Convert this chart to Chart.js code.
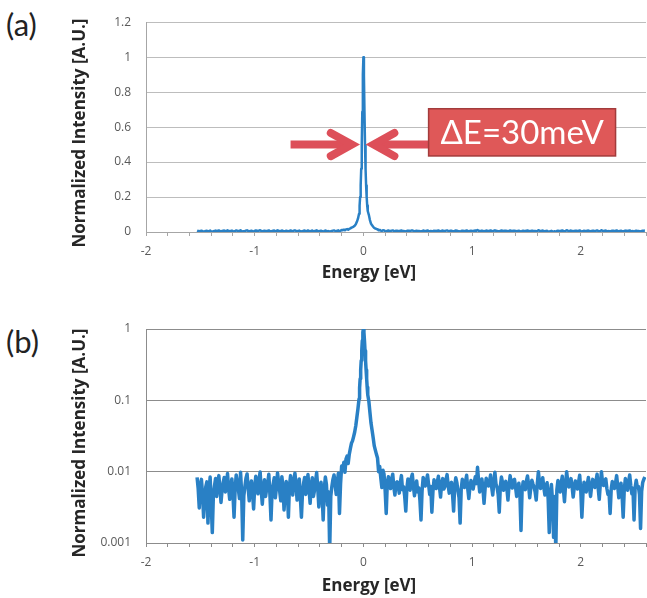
<!DOCTYPE html>
<html lang="en">
<head>
<meta charset="UTF-8">
<title>Energy resolution spectrum</title>
<script src="https://cdn.jsdelivr.net/npm/chart.js"></script>
<style>
  body { margin: 0; background: #fff; width: 647px; height: 598px; position: relative; overflow: hidden;
         font-family: Lato, "Open Sans", sans-serif; }
  canvas { position: absolute; left: 0; }
  #chartA { top: 0; }
  #chartB { top: 300px; }
  .panel { position: absolute; left: 6px; font-size: 31px; line-height: 1; color: #222; }
</style>
</head>
<body>
<div class="panel" style="top:9px">(a)</div>
<div class="panel" style="top:326px">(b)</div>
<canvas id="chartA" width="647" height="290"></canvas>
<canvas id="chartB" width="647" height="298"></canvas>

<script>
// spectrum (energy in eV, normalized intensity)
const leftEnergy = [
  -1.53, -1.52, -1.51, -1.50, -1.49, -1.48, -1.47, -1.46, -1.45, -1.44,
  -1.43, -1.42, -1.41, -1.40, -1.39, -1.38, -1.37, -1.36, -1.35, -1.34,
  -1.33, -1.32, -1.31, -1.30, -1.29, -1.28, -1.27, -1.26, -1.25, -1.24,
  -1.23, -1.22, -1.21, -1.20, -1.19, -1.18, -1.17, -1.16, -1.15, -1.14,
  -1.13, -1.12, -1.11, -1.10, -1.09, -1.08, -1.07, -1.06, -1.05, -1.04,
  -1.03, -1.02, -1.01, -1.00, -0.99, -0.98, -0.97, -0.96, -0.95, -0.94,
  -0.93, -0.92, -0.91, -0.90, -0.89, -0.88, -0.87, -0.86, -0.85, -0.84,
  -0.83, -0.82, -0.81, -0.80, -0.79, -0.78, -0.77, -0.76, -0.75, -0.74,
  -0.73, -0.72, -0.71, -0.70, -0.69, -0.68, -0.67, -0.66, -0.65, -0.64,
  -0.63, -0.62, -0.61, -0.60, -0.59, -0.58, -0.57, -0.56, -0.55, -0.54,
  -0.53, -0.52, -0.51, -0.50, -0.49, -0.48, -0.47, -0.46, -0.45, -0.44,
  -0.43, -0.42, -0.41, -0.40, -0.39, -0.38, -0.37, -0.36, -0.35, -0.34,
  -0.33, -0.32, -0.31
];
const leftIntensity = [
  0.0083, 0.0058, 0.0031, 0.0065, 0.0078, 0.0049, 0.0023, 0.0040, 0.0061, 0.0072,
  0.0019, 0.0052, 0.0084, 0.0036, 0.0014, 0.0047, 0.0063, 0.0080, 0.0045, 0.0069,
  0.0088, 0.0060, 0.0037, 0.0055, 0.0070, 0.0083, 0.0052, 0.0066, 0.0094, 0.0058,
  0.0041, 0.0064, 0.0079, 0.0048, 0.0023, 0.0057, 0.0090, 0.0071, 0.0056, 0.0042,
  0.0098, 0.0050, 0.0011, 0.0046, 0.0062, 0.0081, 0.0093, 0.0059, 0.0039, 0.0063,
  0.0074, 0.0051, 0.0030, 0.0061, 0.0086, 0.0068, 0.0049, 0.0077, 0.0099, 0.0055,
  0.0035, 0.0058, 0.0077, 0.0045, 0.0057, 0.0070, 0.0092, 0.0048, 0.0021, 0.0053,
  0.0067, 0.0082, 0.0043, 0.0060, 0.0096, 0.0072, 0.0053, 0.0039, 0.0085, 0.0062,
  0.0029, 0.0051, 0.0073, 0.0056, 0.0023, 0.0064, 0.0088, 0.0061, 0.0047, 0.0076,
  0.0095, 0.0068, 0.0040, 0.0059, 0.0079, 0.0044, 0.0023, 0.0052, 0.0069, 0.0083,
  0.0048, 0.0066, 0.0091, 0.0057, 0.0036, 0.0063, 0.0082, 0.0045, 0.0054, 0.0074,
  0.0097, 0.0060, 0.0032, 0.0055, 0.0071, 0.0049, 0.0021, 0.0058, 0.0084, 0.0066,
  0.0034, 0.0052, 0.0008
];
const peakEnergy = [
  -0.30, -0.29, -0.28, -0.27, -0.26, -0.25, -0.24, -0.23, -0.22, -0.21,
  -0.20, -0.19, -0.18, -0.17, -0.16, -0.15, -0.14, -0.13, -0.12, -0.11,
  -0.10, -0.09, -0.08, -0.07, -0.06, -0.05, -0.04, -0.035, -0.03, -0.025,
  -0.02, -0.015, -0.01, -0.005, 0, 0.005, 0.01, 0.015, 0.02, 0.025,
  0.03, 0.035, 0.04, 0.05, 0.06, 0.07, 0.08, 0.09, 0.10, 0.11,
  0.12, 0.13, 0.14, 0.15, 0.16, 0.17, 0.18, 0.19, 0.20, 0.21,
  0.22, 0.23, 0.24, 0.25, 0.26, 0.27, 0.28, 0.29, 0.30
];
const peakIntensity = [
  0.0045, 0.0062, 0.0078, 0.0090, 0.0066, 0.0048, 0.0072, 0.0095, 0.0026, 0.0068,
  0.0120, 0.0105, 0.0135, 0.0098, 0.0150, 0.0165, 0.0130, 0.0175, 0.0210, 0.0250,
  0.0270, 0.0310, 0.0360, 0.0440, 0.0580, 0.0760, 0.1050, 0.150, 0.200, 0.268,
  0.362, 0.498, 0.688, 0.900, 1.000, 0.895, 0.685, 0.495, 0.360, 0.266,
  0.202, 0.152, 0.120, 0.098, 0.068, 0.048, 0.038, 0.030, 0.0230, 0.0200,
  0.0175, 0.0155, 0.0100, 0.0118, 0.0082, 0.0060, 0.0105, 0.0092, 0.0055, 0.0026,
  0.0070, 0.0085, 0.0064, 0.0058, 0.0079, 0.0092, 0.0061, 0.0047, 0.0069
];
const rightEnergy = [
  0.31, 0.32, 0.33, 0.34, 0.35, 0.36, 0.37, 0.38, 0.39, 0.40,
  0.41, 0.42, 0.43, 0.44, 0.45, 0.46, 0.47, 0.48, 0.49, 0.50,
  0.51, 0.52, 0.53, 0.54, 0.55, 0.56, 0.57, 0.58, 0.59, 0.60,
  0.61, 0.62, 0.63, 0.64, 0.65, 0.66, 0.67, 0.68, 0.69, 0.70,
  0.71, 0.72, 0.73, 0.74, 0.75, 0.76, 0.77, 0.78, 0.79, 0.80,
  0.81, 0.82, 0.83, 0.84, 0.85, 0.86, 0.87, 0.88, 0.89, 0.90,
  0.91, 0.92, 0.93, 0.94, 0.95, 0.96, 0.97, 0.98, 0.99, 1.00,
  1.01, 1.02, 1.03, 1.04, 1.05, 1.06, 1.07, 1.08, 1.09, 1.10,
  1.11, 1.12, 1.13, 1.14, 1.15, 1.16, 1.17, 1.18, 1.19, 1.20,
  1.21, 1.22, 1.23, 1.24, 1.25, 1.26, 1.27, 1.28, 1.29, 1.30,
  1.31, 1.32, 1.33, 1.34, 1.35, 1.36, 1.37, 1.38, 1.39, 1.40,
  1.41, 1.42, 1.43, 1.44, 1.45, 1.46, 1.47, 1.48, 1.49, 1.50,
  1.51, 1.52, 1.53, 1.54, 1.55, 1.56, 1.57, 1.58, 1.59, 1.60,
  1.61, 1.62, 1.63, 1.64, 1.65, 1.66, 1.67, 1.68, 1.69, 1.70,
  1.71, 1.72, 1.73, 1.74, 1.75, 1.76, 1.77, 1.78, 1.79, 1.80,
  1.81, 1.82, 1.83, 1.84, 1.85, 1.86, 1.87, 1.88, 1.89, 1.90,
  1.91, 1.92, 1.93, 1.94, 1.95, 1.96, 1.97, 1.98, 1.99, 2.00,
  2.01, 2.02, 2.03, 2.04, 2.05, 2.06, 2.07, 2.08, 2.09, 2.10,
  2.11, 2.12, 2.13, 2.14, 2.15, 2.16, 2.17, 2.18, 2.19, 2.20,
  2.21, 2.22, 2.23, 2.24, 2.25, 2.26, 2.27, 2.28, 2.29, 2.30,
  2.31, 2.32, 2.33, 2.34, 2.35, 2.36, 2.37, 2.38, 2.39, 2.40,
  2.41, 2.42, 2.43, 2.44, 2.45, 2.46, 2.47, 2.48, 2.49, 2.50,
  2.51, 2.52, 2.53, 2.54, 2.55, 2.56, 2.57, 2.58, 2.59
];
const rightIntensity = [
  0.0072, 0.0064, 0.0050, 0.0071, 0.0088, 0.0056, 0.0061, 0.0045, 0.0028, 0.0058,
  0.0079, 0.0067, 0.0055, 0.0081, 0.0092, 0.0063, 0.0046, 0.0060, 0.0074, 0.0052,
  0.0059, 0.0040, 0.0021, 0.0054, 0.0083, 0.0070, 0.0063, 0.0075, 0.0090, 0.0066,
  0.0048, 0.0062, 0.0027, 0.0053, 0.0077, 0.0065, 0.0058, 0.0072, 0.0086, 0.0061,
  0.0044, 0.0069, 0.0080, 0.0057, 0.0062, 0.0078, 0.0091, 0.0064, 0.0050, 0.0068,
  0.0071, 0.0049, 0.0028, 0.0063, 0.0082, 0.0070, 0.0054, 0.0043, 0.0019, 0.0057,
  0.0078, 0.0066, 0.0060, 0.0073, 0.0089, 0.0058, 0.0042, 0.0061, 0.0075, 0.0064,
  0.0057, 0.0071, 0.0085, 0.0068, 0.0115, 0.0074, 0.0052, 0.0063, 0.0079, 0.0058,
  0.0036, 0.0059, 0.0081, 0.0066, 0.0063, 0.0072, 0.0090, 0.0061, 0.0047, 0.0070,
  0.0098, 0.0067, 0.0060, 0.0048, 0.0027, 0.0062, 0.0084, 0.0071, 0.0055, 0.0066,
  0.0073, 0.0058, 0.0040, 0.0064, 0.0088, 0.0069, 0.0059, 0.0076, 0.0078, 0.0061,
  0.0045, 0.0060, 0.0069, 0.0048, 0.0015, 0.0055, 0.0072, 0.0063, 0.0056, 0.0074,
  0.0087, 0.0065, 0.0043, 0.0059, 0.0076, 0.0067, 0.0061, 0.0052, 0.0040, 0.0068,
  0.0100, 0.0072, 0.0058, 0.0066, 0.0082, 0.0060, 0.0047, 0.0063, 0.0070, 0.0041,
  0.0014, 0.0050, 0.0066, 0.0039, 0.0012, 0.0045, 0.0008, 0.0056, 0.0075, 0.0063,
  0.0052, 0.0070, 0.0086, 0.0057, 0.0038, 0.0066, 0.0100, 0.0073, 0.0061, 0.0069,
  0.0080, 0.0062, 0.0044, 0.0060, 0.0074, 0.0068, 0.0057, 0.0072, 0.0089, 0.0054,
  0.0023, 0.0049, 0.0071, 0.0064, 0.0052, 0.0067, 0.0083, 0.0060, 0.0045, 0.0063,
  0.0078, 0.0066, 0.0060, 0.0074, 0.0092, 0.0059, 0.0041, 0.0068, 0.0100, 0.0071,
  0.0064, 0.0075, 0.0079, 0.0058, 0.0048, 0.0052, 0.0026, 0.0057, 0.0073, 0.0065,
  0.0058, 0.0070, 0.0088, 0.0062, 0.0043, 0.0059, 0.0069, 0.0047, 0.0023, 0.0056,
  0.0080, 0.0067, 0.0055, 0.0073, 0.0090, 0.0064, 0.0049, 0.0058, 0.0021, 0.0060,
  0.0076, 0.0061, 0.0062, 0.0048, 0.0016, 0.0053, 0.0071, 0.0078, 0.0084
];

// ticks
const xLabelValues = [-2, -1, 0, 1, 2];
const linearTicks = [0, 0.2, 0.4, 0.6, 0.8, 1, 1.2];
const logTicks = [0.001, 0.01, 0.1, 1];

// FWHM marker (data units of panel a)
const arrowLevel = 0.5;
const armSpread = 0.066;
const leftArrow = { tail: -0.67, vertex: -0.107, arm: -0.30 };
const rightArrow = { vertex: 0.095, arm: 0.285, tail: 0.6 };
const labelBox = { x0: 0.6, x1: 2.32, y0: 0.435, y1: 0.705, text: 'ΔE=30meV' };

const FONT = 'Lato, "Open Sans", sans-serif';
const TICK_FONT = '"Open Sans", sans-serif';
const lineColor = 'rgb(41,128,197)';

const energy = leftEnergy.concat(peakEnergy, rightEnergy);
const intensity = leftIntensity.concat(peakIntensity, rightIntensity);
const points = energy.map((e, i) => ({ x: e, y: intensity[i] }));

// axis titles, placed where the original has them
const titlePlugin = {
  id: 'axisTitles',
  afterDraw(chart, args, opts) {
    const ctx = chart.ctx;
    ctx.save();
    ctx.font = 'bold 17px "Open Sans", sans-serif';
    ctx.fillStyle = '#262626';
    ctx.textAlign = 'center';
    ctx.textBaseline = 'middle';
    ctx.fillText('Energy [eV]', opts.xTitle[0], opts.xTitle[1]);
    ctx.translate(opts.yTitle[0], opts.yTitle[1]);
    ctx.rotate(-Math.PI / 2);
    ctx.fillText('Normalized Intensity [A.U.]', 0, 0);
    ctx.restore();
  }
};

const fwhmPlugin = {
  id: 'fwhm',
  afterDatasetsDraw(chart) {
    const { ctx, scales: { x, y } } = chart;
    const yMid = y.getPixelForValue(arrowLevel);
    const yUp = y.getPixelForValue(arrowLevel + armSpread);
    const yDn = y.getPixelForValue(arrowLevel - armSpread);
    ctx.save();
    ctx.strokeStyle = '#DD4F59';
    ctx.lineWidth = 8;

    [leftArrow, rightArrow].forEach(a => {
      const xv = x.getPixelForValue(a.vertex);
      ctx.lineCap = 'butt';
      ctx.beginPath();
      ctx.moveTo(x.getPixelForValue(a.tail), yMid);
      ctx.lineTo(xv, yMid);
      ctx.stroke();
      ctx.lineCap = 'round';
      ctx.lineJoin = 'miter';
      ctx.beginPath();
      ctx.moveTo(x.getPixelForValue(a.arm), yUp);
      ctx.lineTo(xv, yMid);
      ctx.lineTo(x.getPixelForValue(a.arm), yDn);
      ctx.stroke();
    });

    const bx0 = x.getPixelForValue(labelBox.x0), bx1 = x.getPixelForValue(labelBox.x1);
    const by0 = y.getPixelForValue(labelBox.y1), by1 = y.getPixelForValue(labelBox.y0);
    ctx.fillStyle = '#DF5858';
    ctx.fillRect(bx0, by0, bx1 - bx0, by1 - by0);
    ctx.strokeStyle = '#A33B3B';
    ctx.lineWidth = 1.5;
    ctx.strokeRect(bx0, by0, bx1 - bx0, by1 - by0);
    ctx.fillStyle = '#fff';
    ctx.font = '33px ' + FONT;
    ctx.textAlign = 'center';
    ctx.textBaseline = 'middle';
    ctx.fillText(labelBox.text, (bx0 + bx1) / 2, (by0 + by1) / 2 + 1);
    ctx.restore();
  }
};

function xAxis(axisColor, xHeight) {
  return {
    type: 'linear', min: -2, max: 2.6,
    afterFit: s => { s.height = xHeight; s.paddingRight = 0; },
    border: { color: axisColor },
    grid: { drawOnChartArea: false, drawTicks: true, tickLength: 4, color: axisColor },
    ticks: {
      stepSize: 0.2, autoSkip: false, maxRotation: 0, padding: 8,
      color: '#595959', font: { family: TICK_FONT, size: 12 },
      callback: v => {
        const r = Math.round(v);
        return (Math.abs(v - r) < 1e-6 && xLabelValues.includes(r)) ? String(r) : '';
      }
    }
  };
}

function yTicks() {
  return {
    padding: 15, color: '#595959', font: { family: TICK_FONT, size: 12 },
    callback: v => String(Number(v.toFixed(3)))
  };
}

function spectrumChart(id, width, scales, padTop, titles, extra) {
  return new Chart(document.getElementById(id), {
    type: 'line',
    data: {
      datasets: [{
        data: points, borderColor: lineColor, borderWidth: width,
        pointRadius: 0, tension: 0, borderJoinStyle: 'round'
      }]
    },
    options: {
      responsive: false, animation: false,
      layout: { padding: { top: padTop, right: 1, left: 0, bottom: 0 } },
      plugins: {
        legend: { display: false }, tooltip: { enabled: false },
        axisTitles: titles
      },
      scales: scales
    },
    plugins: [titlePlugin].concat(extra)
  });
}

spectrumChart('chartA', 2.5, {
  x: xAxis('#A6A6A6', 58),
  y: {
    type: 'linear', min: 0, max: 1.2,
    afterBuildTicks: s => { s.ticks = linearTicks.map(v => ({ value: v })); },
    afterFit: s => { s.width = 146; },
    border: { color: '#A6A6A6' },
    grid: { color: '#BDBDBD', drawTicks: false },
    ticks: yTicks()
  }
}, 14, { xTitle: [369, 273], yTitle: [80, 133] }, [fwhmPlugin]);

spectrumChart('chartB', 3.5, {
  x: xAxis('#8C8C8C', 55),
  y: {
    type: 'logarithmic', min: 0.001, max: 1,
    afterBuildTicks: s => { s.ticks = logTicks.map(v => ({ value: v })); },
    afterFit: s => { s.width = 146; },
    border: { color: '#8C8C8C' },
    grid: { color: '#8C8C8C', drawTicks: false },
    ticks: yTicks()
  }
}, 29, { xTitle: [369, 286], yTitle: [80, 143] }, []);
</script>
</body>
</html>
